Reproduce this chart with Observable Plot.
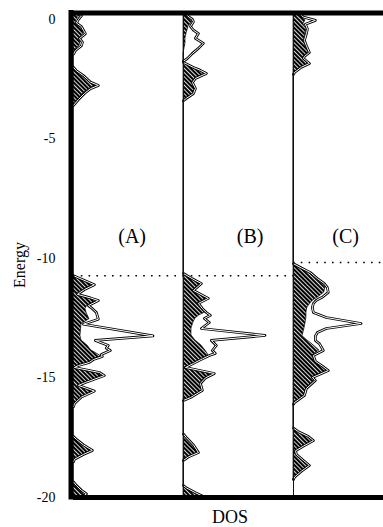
<!DOCTYPE html>
<html><head><meta charset="utf-8">
<script src="https://cdn.jsdelivr.net/npm/d3@7"></script>
<script src="https://cdn.jsdelivr.net/npm/@observablehq/plot@0.6"></script>
<style>
html,body{margin:0;padding:0;background:#fff;overflow:hidden;width:383px;height:527px;position:relative;}
#chart{width:383px;overflow:hidden;}
#chart svg{display:block;max-width:none !important;}
#chart svg text{font-family:"Liberation Serif","Times New Roman",serif;}
#xlabel{font-family:"Liberation Serif",serif;font-size:18px;position:absolute;left:212px;top:507px;line-height:20px;color:#000;}
#ylabel{font-family:"Liberation Serif",serif;font-size:16px;position:absolute;left:20px;top:265px;line-height:16px;color:#000;transform:translate(-50%,-50%) rotate(-90deg);white-space:nowrap;}
</style></head><body>
<div id="chart"></div>
<div id="xlabel">DOS</div>
<div id="ylabel">Energy</div>
<script>
const panels = ["A", "B", "C"];
const panelLabels = ["(A)", "(B)", "(C)"];
const yTicks = [0, -5, -10, -15, -20];
const fermiEnergy = [-10.72, -10.72, -10.17];
const labelDos = [59, 67, 52.5];
const labelEnergy = -9.1;

// Panel A: energy, hatched DOS, total DOS (hollow line)
const energyA = [0.27,0.15,0.0,-0.15,-0.3,-0.45,-0.6,-0.8,-0.95,-1.1,-1.3,-1.45,
  -2.0,-2.15,-2.35,-2.5,-2.62,-2.76,-2.9,-3.1,-3.35,-3.6,
  -10.72,-10.9,-11.1,-11.3,-11.5,-11.65,-11.76,-11.97,-12.1,-12.26,-12.54,-12.75,-13.24,-13.43,-13.64,-13.75,-13.85,-14.02,-14.1,-14.23,-14.35,-14.48,-14.56,-14.77,-14.9,-15.19,-15.31,-15.55,-15.8,-16.07,-16.2,
  -17.45,-17.57,-17.8,-18.03,-18.2,-18.4,-18.5,
  -19.35,-19.5,-19.7,-19.85,-20];
const hatchedA = [4,6,3,2,6,9,10,5,7,6,1,0,
  0,3,9,13,16,23,16,10,5,0,
  0,10,20,10,3,15,24,14,12,13,16,8,7,8,14,16,18,25,28,19,15,5,1,25,30,12,5,20,8,1,0,
  0,3,10,18,10,1,0,
  0,3,8,13,8];
const totalA = [5,8,5,3,8,10,12,6,9,8,2,0,
  0,3,10,14,17,25,17,11,5,0,
  0,10,21,11,4,17,25,15,19,23,25,10,80,22,35,33,37,28,29,20,16,5,1,26,31,12,5,21,8,1,0,
  0,3,10,19,10,1,0,
  0,3,8,13,8];

// Panel B
const energyB = [0.27,0.15,0.0,-0.1,-0.29,-0.45,-0.59,-0.79,-1.0,-1.21,-1.42,-1.63,-1.75,
  -1.8,-1.88,-2.01,-2.13,-2.26,-2.47,-2.64,-2.89,-3.1,-3.3,-3.4,
  -10.63,-10.85,-11.05,-11.34,-11.67,-11.88,-12.1,-12.26,-12.38,-12.51,-12.68,-12.93,-13.22,-13.43,-13.64,-13.85,-13.97,-14.06,-14.2,-14.39,-14.56,-14.81,-15.0,-15.23,-15.52,-15.82,-15.94,
  -17.35,-17.5,-17.8,-18.12,-18.3,-18.45,
  -19.5,-19.6,-19.8,-20];
const hatchedB = [3,5,8,9,5,4,3,2,2,1,0,0,0,
  0,4,10,17,22,12,9,12,10,3,0,
  0,9,17,9,24,14,18,22,16,12,10,8,8,12,18,22,24,25,18,10,2,30,22,17,19,7,0,
  0,3,10,15,5,0,
  0,3,12,22];
const totalB = [3,4,9,10,7,10,15,12,20,15,9,4,0,
  0,4,10,17,23,12,9,12,10,3,0,
  0,9,18,10,25,15,19,23,27,21,26,18,82,28,33,29,32,26,19,10,2,31,22,17,19,7,0,
  0,3,10,15,5,0,
  0,3,12,22];

// Panel C
const energyC = [0.27,0.1,-0.04,-0.2,-0.4,-0.59,-0.88,-1.1,-1.38,-1.55,-1.63,-1.84,-2.0,-2.22,-2.3,
  -10.22,-10.4,-10.59,-10.84,-11.05,-11.21,-11.42,-11.62,-11.75,-11.88,-12.05,-12.26,-12.47,-12.72,-12.93,-13.1,-13.25,-13.43,-13.56,-13.7,-13.85,-14.06,-14.3,-14.5,-14.69,-14.98,-15.1,-15.44,-15.73,-16.03,-16.1,
  -17.1,-17.25,-17.45,-17.62,-17.85,-18.05,-18.2,-18.45,-18.66,-18.9,-19.15,-19.25];
const hatchedC = [5,10,12,10,13,12,10,12,15,10,10,15,8,1,0,
  0,8,16,22,28,32,31,25,20,17,14,13,13,12,11,10,9,14,18,22,26,19,21,28,34,18,21,13,11,1,0,
  0,5,15,20,10,2,3,10,16,8,1,0];
const totalC = [5,10,22,12,14,13,11,13,16,11,10,16,8,1,0,
  0,8,17,24,31,34,35,29,23,20,19,20,33,68,33,24,22,22,26,28,30,20,22,29,35,19,22,13,11,1,0,
  0,5,15,20,10,2,3,10,16,8,1,0];

const series = [[energyA, hatchedA, totalA], [energyB, hatchedB, totalB], [energyC, hatchedC, totalC]];

const areaRows = [];
const lineRows = [];
series.forEach(([E, h, l], p) => {
  const panel = panels[p];
  E.forEach((e, i) => {
    areaRows.push({panel, E: e, dos: h[i]});
    if (i > 0 && l[i] === 0 && l[i - 1] === 0) {
      lineRows.push({panel, E: (e + E[i - 1]) / 2, dos: NaN});
    }
    lineRows.push({panel, E: e, dos: l[i]});
  });
});

const fermiRows = panels.map((panel, i) => ({panel, E: fermiEnergy[i]}));
const labelRows = panels.map((panel, i) => ({panel, text: panelLabels[i], dos: labelDos[i]}));
const yTop = 0.27, yBottom = -20;

const plot = Plot.plot({
  width: 404,
  height: 505,
  marginLeft: 72,
  marginRight: 0,
  marginTop: 12.5,
  marginBottom: 8,
  style: {fontFamily: '"Liberation Serif", "Times New Roman", serif', fontSize: "14px", background: "white", color: "black", overflow: "visible", maxWidth: "none"},
  fx: {domain: panels, padding: 0, axis: null, label: null},
  x: {domain: [0, 110.67], axis: null},
  y: {domain: [yBottom, yTop], ticks: yTicks, tickSize: 0, tickPadding: 18, tickFormat: d => String(d), label: null},
  marks: [
    Plot.areaX(areaRows, {fx: "panel", y: "E", x: "dos", fill: "url(#hatch)", stroke: "black", strokeWidth: 0.7}),
    Plot.lineX(lineRows, {fx: "panel", y: "E", x: "dos", stroke: "black", strokeWidth: 2.7}),
    Plot.lineX(lineRows, {fx: "panel", y: "E", x: "dos", stroke: "white", strokeWidth: 1}),
    Plot.ruleY(fermiRows, {fx: "panel", y: "E", stroke: "black", strokeWidth: 1.6, strokeDasharray: "1.6 6.2"}),
    Plot.ruleX(panels.slice(1), {fx: d => d, x: 0, stroke: "#111", strokeWidth: 1}),
    Plot.ruleY(panels, {fx: d => d, y: yTop, stroke: "black", strokeWidth: 5}),
    Plot.ruleY(panels, {fx: d => d, y: yBottom, stroke: "black", strokeWidth: 5}),
    Plot.ruleX(["A"], {fx: d => d, x: 0, y1: yBottom, y2: yTop, stroke: "black", strokeWidth: 5, dx: -2.5, strokeLinecap: "square"}),
    Plot.text(labelRows, {fx: "panel", x: "dos", y: labelEnergy, text: "text", fontSize: 20})
  ]
});

const ns = "http://www.w3.org/2000/svg";
const defs = document.createElementNS(ns, "defs");
defs.innerHTML = '<pattern id="hatch" patternUnits="userSpaceOnUse" width="3" height="3" patternTransform="rotate(-45)"><rect width="3" height="3" fill="#000"/><rect x="0" y="0" width="0.85" height="3" fill="#fff"/></pattern>';
plot.insertBefore(defs, plot.firstChild);
document.getElementById("chart").appendChild(plot);
</script>
</body></html>
